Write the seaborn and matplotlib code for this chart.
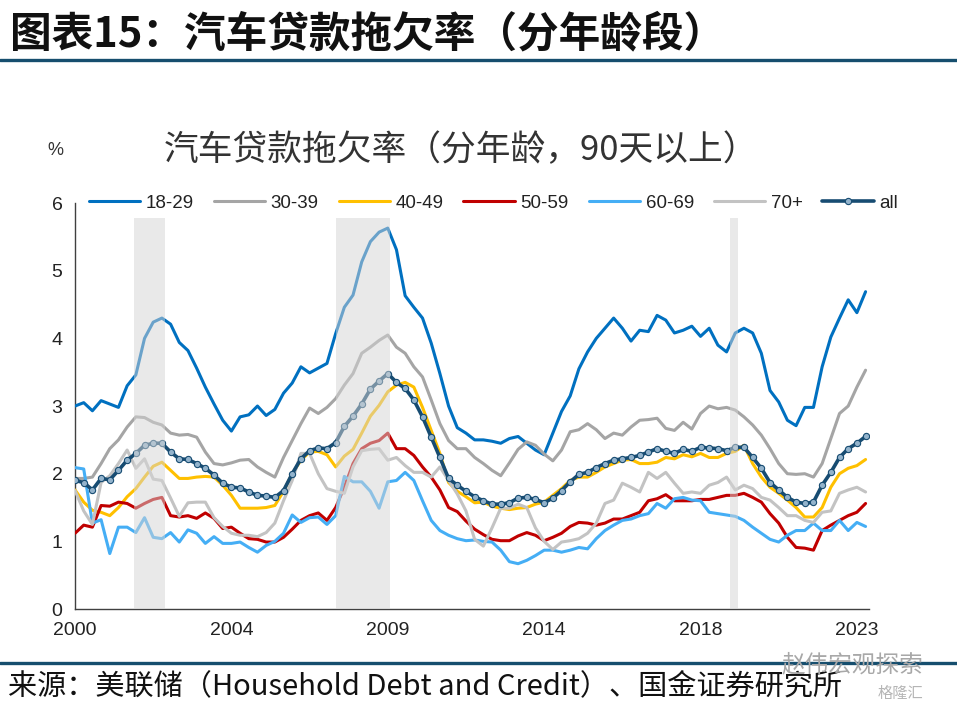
import numpy as np
import pandas as pd
import matplotlib
matplotlib.use("Agg")
import matplotlib.pyplot as plt
import seaborn as sns

# quarterly, 2000Q1 .. 2022Q4, % of balance 90+ days delinquent
quarters = pd.period_range("2000Q1", periods=92, freq="Q").astype(str)

age_18_29 = [3.0, 3.05, 2.93, 3.08, 3.03, 2.98, 3.3, 3.46, 4.0, 4.24, 4.3, 4.21, 3.94, 3.82, 3.56, 3.28,
             3.03, 2.79, 2.63, 2.84, 2.87, 3.0, 2.86, 2.95, 3.19, 3.34, 3.58, 3.49, 3.56, 3.63, 4.07, 4.46,
             4.64, 5.13, 5.43, 5.57, 5.63, 5.31, 4.63, 4.46, 4.3, 3.93, 3.48, 3.0, 2.68, 2.6, 2.5, 2.5,
             2.48, 2.45, 2.52, 2.55, 2.45, 2.35, 2.28, 2.6, 2.92, 3.15, 3.55, 3.8, 4.0, 4.15, 4.3, 4.15,
             3.96, 4.12, 4.1, 4.34, 4.27, 4.08, 4.12, 4.18, 4.03, 4.15, 3.9, 3.8, 4.08, 4.15, 4.08, 3.78,
             3.23, 3.06, 2.79, 2.71, 2.98, 2.98, 3.58, 4.02, 4.3, 4.57, 4.38, 4.69]
age_30_39 = [1.93, 1.93, 1.95, 2.15, 2.37, 2.5, 2.69, 2.84, 2.83, 2.76, 2.72, 2.6, 2.57, 2.58, 2.54, 2.32,
             2.15, 2.13, 2.16, 2.2, 2.21, 2.1, 2.02, 1.95, 2.24, 2.49, 2.74, 2.97, 2.89, 2.98, 3.11, 3.31,
             3.48, 3.78, 3.87, 3.97, 4.05, 3.87, 3.78, 3.58, 3.43, 3.09, 2.74, 2.49, 2.37, 2.37, 2.24, 2.15,
             2.05, 1.97, 2.16, 2.36, 2.47, 2.42, 2.29, 2.19, 2.35, 2.62, 2.65, 2.74, 2.65, 2.52, 2.6, 2.57,
             2.69, 2.79, 2.8, 2.82, 2.67, 2.64, 2.76, 2.66, 2.89, 3.0, 2.96, 2.98, 2.94, 2.84, 2.72, 2.57,
             2.37, 2.15, 2.0, 1.99, 2.0, 1.95, 2.15, 2.52, 2.89, 3.0, 3.28, 3.53]
age_40_49 = [1.76, 1.58, 1.46, 1.43, 1.38, 1.5, 1.66, 1.78, 1.95, 2.11, 2.17, 2.05, 1.93, 1.93, 1.95, 1.96,
             1.95, 1.83, 1.68, 1.49, 1.49, 1.49, 1.5, 1.53, 1.74, 2.0, 2.2, 2.32, 2.33, 2.28, 2.1, 2.26,
             2.36, 2.6, 2.85, 3.01, 3.21, 3.31, 3.35, 3.28, 2.98, 2.64, 2.3, 1.87, 1.74, 1.66, 1.57, 1.58,
             1.52, 1.49, 1.47, 1.49, 1.5, 1.55, 1.58, 1.68, 1.78, 1.9, 1.95, 1.95, 2.02, 2.1, 2.15, 2.2,
             2.21, 2.15, 2.15, 2.17, 2.24, 2.22, 2.28, 2.25, 2.3, 2.24, 2.24, 2.3, 2.33, 2.42, 2.15, 1.95,
             1.8, 1.71, 1.61, 1.5, 1.36, 1.36, 1.5, 1.8, 2.0, 2.08, 2.12, 2.21]
age_50_59 = [1.12, 1.24, 1.21, 1.53, 1.52, 1.58, 1.56, 1.49, 1.56, 1.62, 1.65, 1.38, 1.36, 1.38, 1.34, 1.42,
             1.34, 1.19, 1.21, 1.12, 1.04, 1.03, 0.99, 0.99, 1.06, 1.18, 1.31, 1.38, 1.42, 1.31, 1.5, 1.8,
             2.15, 2.37, 2.45, 2.49, 2.6, 2.37, 2.37, 2.27, 2.1, 1.95, 1.76, 1.5, 1.44, 1.3, 1.18, 1.1,
             1.03, 1.01, 1.01, 1.08, 1.13, 1.09, 1.01, 1.06, 1.12, 1.22, 1.28, 1.27, 1.24, 1.27, 1.33, 1.33,
             1.38, 1.43, 1.6, 1.63, 1.69, 1.6, 1.6, 1.6, 1.62, 1.62, 1.65, 1.68, 1.68, 1.71, 1.65, 1.58,
             1.41, 1.27, 1.06, 0.91, 0.9, 0.87, 1.16, 1.24, 1.31, 1.38, 1.43, 1.56]
age_60_69 = [2.09, 2.07, 1.27, 1.32, 0.82, 1.21, 1.21, 1.13, 1.35, 1.06, 1.04, 1.13, 0.99, 1.17, 1.12, 0.97,
             1.07, 0.97, 0.97, 0.99, 0.91, 0.84, 0.94, 1.0, 1.12, 1.39, 1.28, 1.35, 1.36, 1.25, 1.38, 1.96,
             1.88, 1.88, 1.74, 1.49, 1.88, 1.9, 2.02, 1.9, 1.6, 1.31, 1.16, 1.09, 1.04, 1.01, 1.02, 1.0,
             0.99, 0.87, 0.7, 0.67, 0.72, 0.79, 0.87, 0.87, 0.84, 0.87, 0.91, 0.89, 1.04, 1.16, 1.24, 1.31,
             1.33, 1.38, 1.41, 1.56, 1.49, 1.63, 1.65, 1.61, 1.6, 1.43, 1.41, 1.39, 1.37, 1.31, 1.21, 1.12,
             1.03, 0.99, 1.09, 1.16, 1.16, 1.27, 1.16, 1.16, 1.31, 1.16, 1.28, 1.22]
age_70_up = [1.75, 1.45, 1.25, 1.87, 1.97, 2.15, 2.35, 2.08, 2.22, 1.92, 1.9, 1.64, 1.37, 1.57, 1.58, 1.58,
             1.35, 1.22, 1.12, 1.09, 1.09, 1.07, 1.13, 1.27, 1.6, 1.9, 2.3, 2.3, 2.0, 1.78, 1.74, 1.71,
             2.1, 2.34, 2.36, 2.37, 2.2, 2.24, 2.12, 2.02, 2.02, 1.95, 2.1, 1.9, 1.7, 1.45, 1.03, 0.93,
             1.2, 1.49, 1.49, 1.55, 1.5, 1.2, 1.0, 0.88, 0.99, 1.01, 1.04, 1.12, 1.27, 1.56, 1.61, 1.86,
             1.8, 1.73, 2.02, 1.93, 2.02, 1.86, 1.71, 1.73, 1.71, 1.83, 1.87, 1.95, 1.76, 1.83, 1.78, 1.65,
             1.61, 1.5, 1.38, 1.38, 1.31, 1.28, 1.43, 1.45, 1.71, 1.76, 1.8, 1.73]
age_all = [1.9, 1.87, 1.76, 1.93, 1.91, 2.05, 2.2, 2.3, 2.42, 2.45, 2.45, 2.32, 2.22, 2.21, 2.15, 2.08,
           1.98, 1.86, 1.8, 1.79, 1.73, 1.68, 1.67, 1.65, 1.75, 2.0, 2.22, 2.34, 2.38, 2.37, 2.46, 2.7,
           2.85, 3.03, 3.25, 3.37, 3.48, 3.35, 3.26, 3.09, 2.84, 2.54, 2.24, 1.93, 1.83, 1.74, 1.66, 1.6,
           1.55, 1.55, 1.57, 1.64, 1.65, 1.62, 1.57, 1.64, 1.75, 1.88, 1.99, 2.02, 2.09, 2.15, 2.2, 2.22,
           2.24, 2.27, 2.32, 2.37, 2.33, 2.3, 2.36, 2.33, 2.39, 2.38, 2.37, 2.34, 2.39, 2.39, 2.24, 2.08,
           1.87, 1.76, 1.65, 1.58, 1.56, 1.58, 1.83, 2.02, 2.24, 2.37, 2.45, 2.55]

series_names = ["18-29", "30-39", "40-49", "50-59", "60-69", "70+", "all"]
series_colors = ["#0070C0", "#A5A5A5", "#FFC000", "#C00000", "#45AEF5", "#C3C3C3", "#174C72"]

# recession shading, in quarter positions
recession_spans = [(6.8, 10.4), (30.0, 36.2), (75.4, 76.3)]
recession_top = 5.78

tick_pos = [0, 18, 36, 54, 72, 90]
tick_labels = ["2000", "2004", "2009", "2014", "2018", "2023"]

sns.set_theme(style="white")
plt.rcParams["font.family"] = ["Noto Sans CJK SC", "DejaVu Sans"]
num_font = ["Liberation Sans", "DejaVu Sans"]

fig = plt.figure(figsize=(9.57, 7.09), dpi=100)
ax = fig.add_axes([0.0784, 0.141, 0.8297, 0.5726])

x = np.arange(len(quarters))
all_values = [age_18_29, age_30_39, age_40_49, age_50_59, age_60_69, age_70_up, age_all]
for name, vals, col in zip(series_names, all_values, series_colors):
    if name == "all":
        sns.lineplot(x=x, y=vals, ax=ax, color=col, lw=2.6, label=name, marker="o",
                     markersize=4.5, markerfacecolor="#93B3CC", markeredgecolor=col,
                     markeredgewidth=0.8, zorder=4)
    else:
        sns.lineplot(x=x, y=vals, ax=ax, color=col, lw=2.2, label=name, zorder=3)

for a, b in recession_spans:
    ax.axvspan(a, b, ymin=0, ymax=recession_top / 6, color="#D5D5D5", alpha=0.5, lw=0, zorder=5)

ax.set_xlim(0, 91.4)
ax.set_ylim(0, 6)
ax.set_yticks(range(7))
ax.set_xticks(tick_pos)
ax.set_xticklabels(tick_labels)
ax.set_xlabel("")
ax.set_ylabel("")
for s in ["top", "right"]:
    ax.spines[s].set_visible(False)
for s in ["left", "bottom"]:
    ax.spines[s].set_color("#404040")
    ax.spines[s].set_linewidth(1.0)
ax.tick_params(axis="both", direction="out", length=5, width=1, color="#404040",
               labelsize=14, labelcolor="#222222", pad=4)
for lab in ax.get_xticklabels() + ax.get_yticklabels():
    lab.set_family(num_font)

leg = ax.legend(ncol=7, loc="center", bbox_to_anchor=(0.527, 1.0), frameon=False,
                handlelength=2.75, handletextpad=0.3, columnspacing=1.05,
                prop={"family": num_font, "size": 13.5})
for t in leg.get_texts():
    t.set_color("#222222")

# header / footer
fig.text(0.0104, 0.951, "图表15：汽车贷款拖欠率（分年龄段）", fontsize=30, fontweight="bold",
         ha="left", va="center", color="#111111")
fig.add_artist(plt.Line2D([0, 1], [0.9154, 0.9154], color="#164E6E", lw=2.4))
fig.text(0.4817, 0.788, "汽车贷款拖欠率（分年龄，90天以上）", fontsize=25,
         ha="center", va="center", color="#333333")
fig.text(0.0575, 0.788, "%", fontsize=13, ha="center", va="center", color="#333333",
         family=num_font)
fig.add_artist(plt.Line2D([0, 1], [0.0649, 0.0649], color="#164E6E", lw=2.4))
fig.text(0.0084, 0.032, "来源：美联储（Household Debt and Credit）、国金证券研究所", fontsize=21,
         ha="left", va="center", color="#111111")
fig.text(0.965, 0.062, "赵伟宏观探索", fontsize=17, ha="right", va="center", color="#A8A8A8")
fig.text(0.965, 0.022, "格隆汇", fontsize=11, ha="right", va="center", color="#B5B5B5")

fig.savefig("out.png", dpi=100)
